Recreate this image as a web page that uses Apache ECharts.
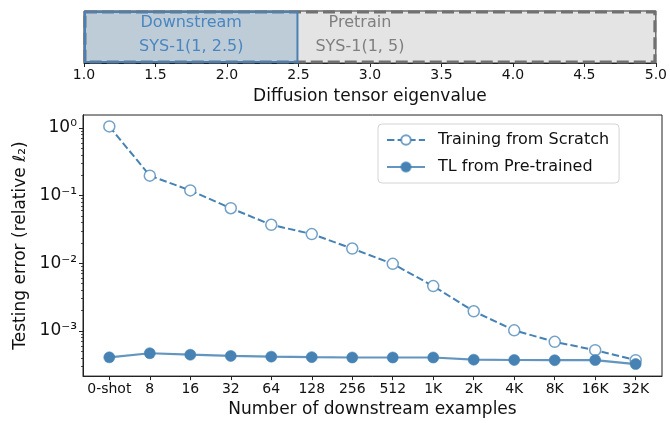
<!DOCTYPE html>
<html><head><meta charset="utf-8">
<script src="https://cdn.jsdelivr.net/npm/echarts@6/dist/echarts.min.js"></script>
<style>html,body{margin:0;padding:0;background:#fff}#c{width:670px;height:423px}</style>
</head><body><div id="c"></div>
<script>
var xCategories = ['0-shot','8','16','32','64','128','256','512','1K','2K','4K','8K','16K','32K'];
var scratchValues = [1.05, 0.197, 0.119, 0.065, 0.037, 0.027, 0.0165, 0.0098, 0.0046, 0.00195, 0.00102, 0.00069, 0.00052, 0.00037];
var tlValues = [0.000407, 0.000468, 0.000445, 0.000427, 0.000417, 0.00041, 0.000405, 0.000405, 0.000405, 0.000376, 0.000372, 0.000369, 0.000371, 0.000324];
var seriesNames = ['Training from Scratch', 'TL from Pre-trained'];
var yMajorTicks = [1e-3, 1e-2, 1e-1, 1];
var yTickLabels = ['10\u207B\u00B3', '10\u207B\u00B2', '10\u207B\u00B9', '10\u2070'];
var regionNames = ['Pretrain', 'Downstream'];
var regionSubtitles = ['SYS-1(1, 5)', 'SYS-1(1, 2.5)'];
var regionLo = [1, 1];
var regionHi = [5, 2.5];
var regionTextX = [2.93, 1.75];

var yMinor = [];
[-4, -3, -2, -1, 0].forEach(function (e) {
  for (var k = 2; k <= 9; k++) yMinor.push(k * Math.pow(10, e));
});

var blue = '#4682b4';
var FONT = 'DejaVu Sans';
var axisLineStyle = {show: true, onZero: false, lineStyle: {color: '#222', width: 1}};

var chart = echarts.init(document.getElementById('c'), null, {renderer: 'canvas'});
var option = {
  animation: false,
  textStyle: {fontFamily: FONT},
  grid: [
    {left: 83, right: 8, top: 115, bottom: 42, show: true, borderColor: '#222', borderWidth: 1, backgroundColor: 'transparent'},
    {left: 84, right: 7, top: 11, height: 52, show: true, borderColor: '#222', borderWidth: 1, backgroundColor: 'transparent'}
  ],
  xAxis: [
    {
      type: 'value', gridIndex: 0, min: -0.65, max: 13.65,
      splitLine: {show: false},
      axisLine: axisLineStyle,
      axisTick: {show: true, length: 4, lineStyle: {color: '#222'}, customValues: xCategories.map(function (_, i) { return i; })},
      axisLabel: {
        customValues: xCategories.map(function (_, i) { return i; }),
        formatter: function (v) { return xCategories[Math.round(v)]; },
        fontSize: 14, color: '#111', margin: 6, fontFamily: FONT
      },
      name: 'Number of downstream examples', nameLocation: 'middle', nameGap: 21,
      nameTextStyle: {fontSize: 17, color: '#111', fontFamily: FONT}
    },
    {
      type: 'value', gridIndex: 1, min: 1, max: 5, interval: 0.5,
      splitLine: {show: false},
      axisLine: axisLineStyle,
      axisTick: {show: true, length: 4, lineStyle: {color: '#222'}},
      axisLabel: {formatter: function (v) { return v.toFixed(1); }, fontSize: 14, color: '#111', margin: 5, fontFamily: FONT},
      name: 'Diffusion tensor eigenvalue', nameLocation: 'middle', nameGap: 25,
      nameTextStyle: {fontSize: 17, color: '#111', fontFamily: FONT}
    }
  ],
  yAxis: [
    {
      type: 'log', gridIndex: 0, min: 2.15e-4, max: 1.55, logBase: 10, position: 'left',
      splitLine: {show: false},
      axisLine: axisLineStyle,
      axisTick: {show: true, length: 4, lineStyle: {color: '#222'}, customValues: yMajorTicks},
      axisLabel: {
        customValues: yMajorTicks,
        formatter: function (v) {
          for (var i = 0; i < yMajorTicks.length; i++) {
            if (Math.abs(Math.log10(v) - Math.log10(yMajorTicks[i])) < 1e-6) return yTickLabels[i];
          }
          return '';
        },
        fontSize: 17, color: '#111', margin: 6, fontFamily: FONT
      },
      name: 'Testing error (relative \u2113\u2082)', nameLocation: 'middle', nameGap: 45,
      nameTextStyle: {fontSize: 17, color: '#111', fontFamily: FONT}
    },
    {
      type: 'log', gridIndex: 0, min: 2.15e-4, max: 1.55, logBase: 10, position: 'left',
      splitLine: {show: false}, axisLine: axisLineStyle,
      axisTick: {show: true, length: 2, lineStyle: {color: '#222', width: 0.8}, customValues: yMinor},
      axisLabel: {show: false}
    },
    {
      type: 'value', gridIndex: 1, min: 0, max: 1, show: false
    }
  ],
  legend: {
    show: true,
    left: 378, top: 124, orient: 'vertical',
    padding: [8, 10, 8, 8], itemGap: 11,
    itemWidth: 38, itemHeight: 12,
    backgroundColor: '#fff', borderColor: '#d4d4d4', borderWidth: 1, borderRadius: 4,
    textStyle: {fontSize: 16, color: '#111', fontFamily: FONT, padding: [0, 0, 0, 8]},
    data: seriesNames
  },
  series: [
    {
      name: 'regions', type: 'custom', xAxisIndex: 1, yAxisIndex: 2,
      data: regionNames.map(function (n, i) { return [regionLo[i], regionHi[i], i]; }),
      renderItem: function (params, api) {
        var i = api.value(2);
        var p0 = api.coord([api.value(0), 1]);
        var p1 = api.coord([api.value(1), 0]);
        var tx = api.coord([regionTextX[i], 0.5]);
        var isPre = regionNames[i] === 'Pretrain';
        var rect = {
          type: 'rect',
          shape: {x: p0[0] + 1, y: p0[1] + 1, width: p1[0] - p0[0] - 2, height: p1[1] - p0[1] - 2},
          style: isPre
            ? {fill: '#e4e4e4', stroke: '#707070', lineWidth: 3, lineDash: [12, 5]}
            : {fill: 'rgba(70,130,180,0.24)', stroke: '#4a80b4', lineWidth: 2}
        };
        var color = isPre ? '#7f7f7f' : '#4a86c0';
        return {
          type: 'group',
          children: [
            rect,
            {type: 'text', x: tx[0], y: tx[1] - 14, style: {text: regionNames[i], fill: color, font: '16px "DejaVu Sans"', align: 'center', verticalAlign: 'middle'}},
            {type: 'text', x: tx[0], y: tx[1] + 10, style: {text: regionSubtitles[i], fill: color, font: '16px "DejaVu Sans"', align: 'center', verticalAlign: 'middle'}}
          ]
        };
      },
      silent: true
    },
    {
      name: seriesNames[0], type: 'line', xAxisIndex: 0, yAxisIndex: 0,
      data: scratchValues.map(function (v, i) { return [i, v]; }),
      symbol: 'circle', symbolSize: 11,
      lineStyle: {color: blue, width: 2, type: [7.4, 3.2]},
      itemStyle: {color: '#fff', borderColor: 'rgba(70,130,180,0.75)', borderWidth: 1.5},
      z: 3
    },
    {
      name: seriesNames[1], type: 'line', xAxisIndex: 0, yAxisIndex: 0,
      data: tlValues.map(function (v, i) { return [i, v]; }),
      symbol: 'circle', symbolSize: 11,
      lineStyle: {color: blue, width: 2.2, opacity: 0.85},
      itemStyle: {color: blue, borderColor: 'rgba(70,130,180,0.6)', borderWidth: 1},
      z: 4
    }
  ]
};
chart.setOption(option);
</script>
</body></html>
